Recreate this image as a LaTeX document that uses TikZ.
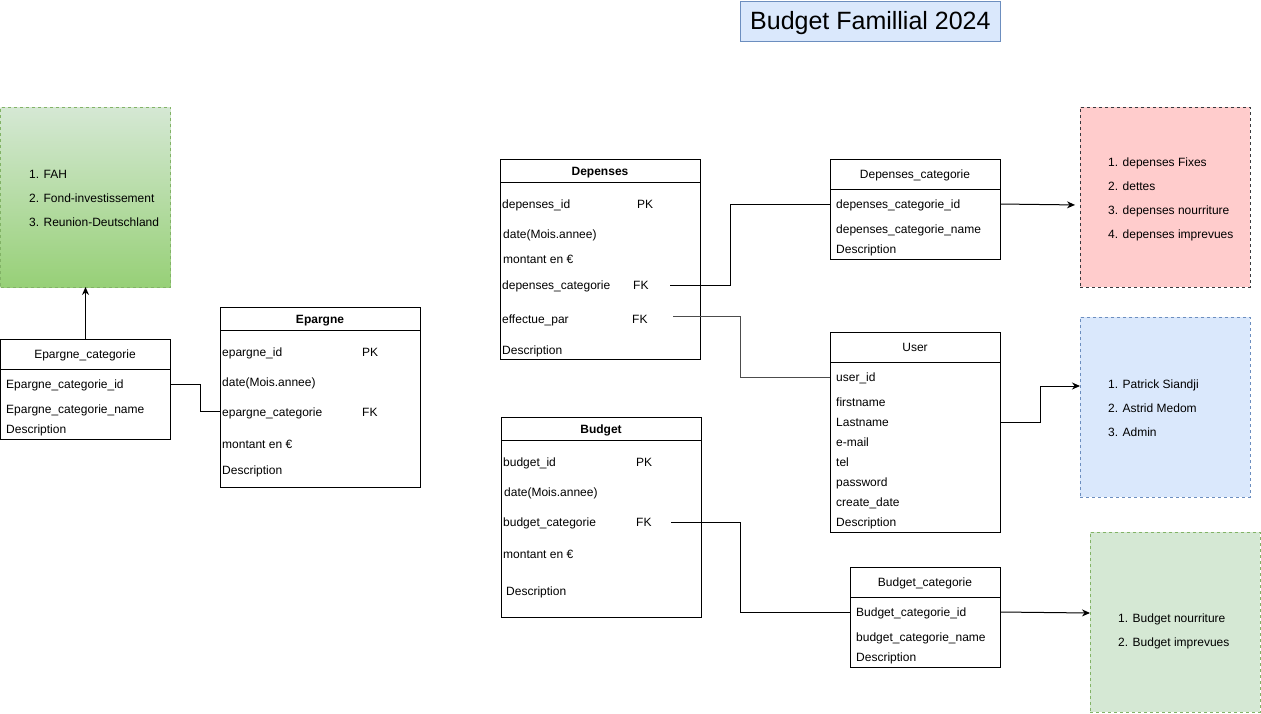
\documentclass[tikz,border=0pt]{standalone}
\usepackage{fontspec}
\setmainfont{Liberation Sans}
\usetikzlibrary{arrows.meta}
\definecolor{bluefill}{HTML}{DAE8FC}
\definecolor{bluedraw}{HTML}{6C8EBF}
\definecolor{greenfill}{HTML}{D5E8D4}
\definecolor{greendark}{HTML}{97D077}
\definecolor{greendraw}{HTML}{82B366}
\definecolor{redfill}{HTML}{FFCCCC}
\definecolor{reddraw}{HTML}{36393D}
\begin{document}
\begin{tikzpicture}[x=1pt,y=-1pt,
 tbl/.style={draw=black, line width=1pt, anchor=north west, inner sep=0pt, outer sep=0pt},
 row/.style={anchor=west, inner sep=0pt, text height=8pt, text depth=0pt, yshift=-1pt, font=\fontsize{12}{14}\selectfont},
 ttl/.style={anchor=center, inner sep=0pt, text height=8pt, text depth=0pt, yshift=-1pt, font=\fontsize{12}{14}\selectfont},
 bttl/.style={ttl, font=\fontsize{12}{14}\selectfont\bfseries},
 note/.style={anchor=north west, inner sep=0pt, outer sep=0pt, dash pattern=on 3pt off 3pt, line width=0.8pt},
 divider/.style={draw=black, line width=1pt},
 link/.style={draw=black, line width=1pt},
 arr/.style={link, -{Stealth[length=8pt,width=7pt]}}]

\useasboundingbox (0,0) rectangle (1261,713);

% ---------- title
\node[draw=bluedraw, fill=bluefill, line width=0.8pt, minimum width=260pt, minimum height=40pt,
      text height=18pt, text depth=0pt,
      anchor=north west, inner sep=0pt, font=\fontsize{25}{29}\selectfont] (title) at (740,0.5) {Budget Famillial 2024};

% ---------- note boxes
\node[note, draw=greendraw, top color=greenfill, bottom color=greendark, minimum width=170pt, minimum height=180pt] (gn) at (0.5,107) {};
\node[row] (gn1) at (29,173) {1. FAH};
\node[row] (gn2) at (29,197) {2. Fond-investissement};
\node[row] (gn3) at (29,221) {3. Reunion-Deutschland};

\node[note, draw=reddraw, fill=redfill, minimum width=170pt, minimum height=180pt] (rn) at (1080,107) {};
\node[row] (rn1) at (1108,161) {1. depenses Fixes};
\node[row] (rn2) at (1108,185) {2. dettes};
\node[row] (rn3) at (1108,209) {3. depenses nourriture};
\node[row] (rn4) at (1108,233) {4. depenses imprevues};

\node[note, draw=bluedraw, fill=bluefill, minimum width=170pt, minimum height=180pt] (bn) at (1080,317) {};
\node[row] (bn1) at (1108,383) {1. Patrick Siandji};
\node[row] (bn2) at (1108,407) {2. Astrid Medom};
\node[row] (bn3) at (1108,431) {3. Admin};

\node[note, draw=greendraw, fill=greenfill, minimum width=170pt, minimum height=180pt] (gb) at (1090,532) {};
\node[row] (gb1) at (1118,617) {1. Budget nourriture};
\node[row] (gb2) at (1118,641) {2. Budget imprevues};

% ---------- Epargne_categorie
\node[tbl, minimum width=170pt, minimum height=100pt] (ec) at (0.5,339) {};
\draw[divider] (0.5,369) -- (170.5,369);
\node[ttl] (ect) at (85,353) {Epargne\_categorie};
\node[row] (ecid) at (6,383) {Epargne\_categorie\_id};
\node[row] (ecname) at (6,408) {Epargne\_categorie\_name};
\node[row] (ecdesc) at (6,428) {Description};

% ---------- Epargne
\node[tbl, minimum width=200pt, minimum height=180pt] (ep) at (220,307) {};
\draw[divider] (220,330) -- (420,330);
\node[bttl] (ept) at (320,318) {Epargne};
\node[row] (epid) at (222,351) {epargne\_id};
\node[row] (eppk) at (362,351) {PK};
\node[row] (epdate) at (222,381) {date(Mois.annee)};
\node[row] (epcat) at (222,411) {epargne\_categorie};
\node[row] (epfk) at (362,411) {FK};
\node[row] (epmont) at (222,443) {montant en €};
\node[row] (epdesc) at (222,469) {Description};

% ---------- Depenses
\node[tbl, minimum width=200pt, minimum height=200pt] (de) at (500,159) {};
\draw[divider] (500,182) -- (700,182);
\node[bttl] (det) at (600,170) {Depenses};
\node[row] (deid) at (502,203) {depenses\_id};
\node[row] (depk) at (637,203) {PK};
\node[row] (dedate) at (503,233) {date(Mois.annee)};
\node[row] (demont) at (503,258) {montant en €};
\node[row] (decat) at (502,284) {depenses\_categorie};
\node[row] (defk) at (633,284) {FK};
\node[row] (deeff) at (502,318) {effectue\_par};
\node[row] (defk2) at (632,318) {FK};
\node[row] (dedesc) at (502,349) {Description};

% ---------- Depenses_categorie
\node[tbl, minimum width=170pt, minimum height=100pt] (dc) at (830,159) {};
\draw[divider] (830,189) -- (1000,189);
\node[ttl] (dct) at (915,173) {Depenses\_categorie};
\node[row] (dcid) at (836,203) {depenses\_categorie\_id};
\node[row] (dcname) at (836,228) {depenses\_categorie\_name};
\node[row] (dcdesc) at (836,248) {Description};

% ---------- User
\node[tbl, minimum width=170pt, minimum height=200pt] (us) at (830,332) {};
\draw[divider] (830,362) -- (1000,362);
\node[ttl] (ust) at (915,346) {User};
\node[row] (uid) at (836,376) {user\_id};
\node[row] (ufirst) at (836,401) {firstname};
\node[row] (ulast) at (836,421) {Lastname};
\node[row] (umail) at (836,441) {e-mail};
\node[row] (utel) at (836,461) {tel};
\node[row] (upass) at (836,481) {password};
\node[row] (ucreate) at (836,501) {create\_date};
\node[row] (udesc) at (836,521) {Description};

% ---------- Budget
\node[tbl, minimum width=200pt, minimum height=200pt] (bu) at (501,417) {};
\draw[divider] (501,440) -- (701,440);
\node[bttl] (but) at (601,428) {Budget};
\node[row] (buid) at (503,461) {budget\_id};
\node[row] (bupk) at (636,461) {PK};
\node[row] (budate) at (504,491) {date(Mois.annee)};
\node[row] (bucat) at (503,521) {budget\_categorie};
\node[row] (bufk) at (636,521) {FK};
\node[row] (bumont) at (503,553) {montant en €};
\node[row] (budesc) at (506,590) {Description};

% ---------- Budget_categorie
\node[tbl, minimum width=150pt, minimum height=100pt] (bc) at (850,567) {};
\draw[divider] (850,597) -- (1000,597);
\node[ttl] (bct) at (925,581) {Budget\_categorie};
\node[row] (bcid) at (856,611) {Budget\_categorie\_id};
\node[row] (bcname) at (856,636) {budget\_categorie\_name};
\node[row] (bcdesc) at (856,656) {Description};

% ---------- connectors
\coordinate (dfk) at (670,285);
\coordinate (efk) at (673,316);
\coordinate (bfk) at (671,522);

\draw[arr] (ec.north) -- (gn.south);
\draw[link] (ec.east |- 0,384) -- ++(30,0) |- (ep.west |- 0,411);
\draw[link] (dfk) -- ++(60,0) |- (dc.west |- 0,204);
\draw[link, draw=black!70] (efk) -- ++(67,0) |- (us.west |- 0,377);
\draw[link] (bfk) -- ++(69,0) |- (bc.west |- 0,612);
\draw[arr, shorten >=5pt] (dc.east |- 0,204) -- (rn.west |- 0,205);
\draw[arr] (us.east |- 0,422) -- ++(40,0) |- (bn.west |- 0,386);
\draw[arr] (bc.east |- 0,612) -- (gb.west |- 0,613);
\end{tikzpicture}
\end{document}
